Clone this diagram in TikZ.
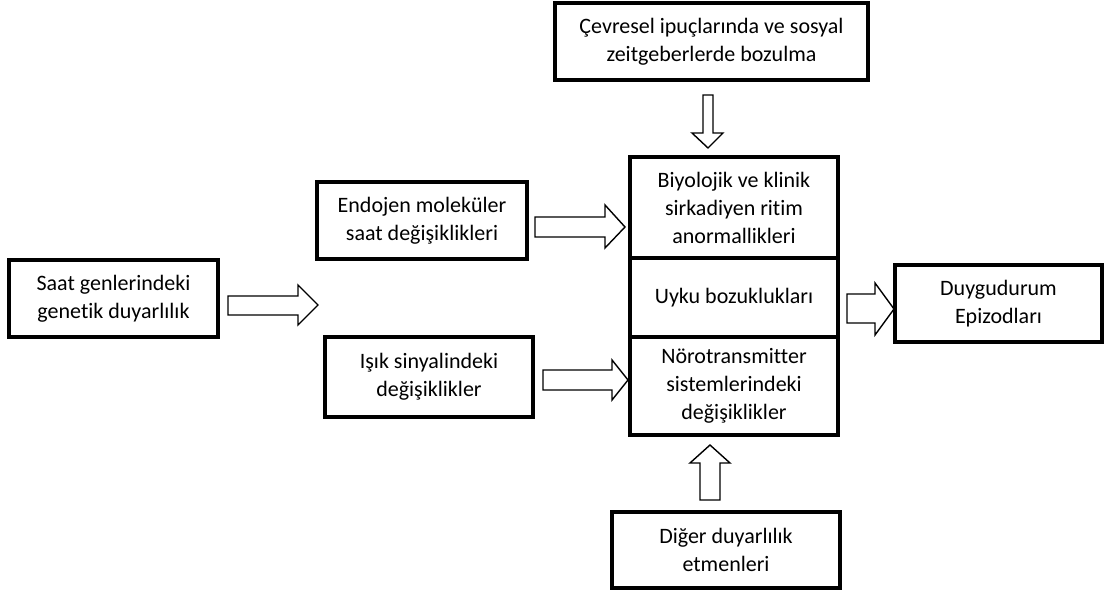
\documentclass[tikz,border=0pt]{standalone}
\usepackage{fontspec}
\setmainfont[Ligatures={NoCommon}]{Carlito}
\begin{document}
\begin{tikzpicture}[x=1pt,y=-1pt,
  box/.style={draw=black,line width=3.6pt,align=center,inner sep=0pt,
    font=\fontsize{22}{28}\selectfont},
  blk/.style={draw=black,line width=1.4pt,fill=white,line join=miter}]
\useasboundingbox (0,0) rectangle (1105,593);
\node[box,minimum width=313pt,minimum height=77pt] (top) at (711.5,41.5) {Çevresel ipuçlarında ve sosyal\\zeitgeberlerde bozulma};
\node[box,minimum width=210pt,minimum height=77pt] (endo) at (422,220.5) {Endojen moleküler\\saat değişiklikleri};
\node[box,minimum width=209pt,minimum height=77pt] (saat) at (113.5,298.5) {Saat genlerindeki\\genetik duyarlılık};
\node[box,minimum width=208pt,minimum height=80pt] (isik) at (429,377) {Işık sinyalindeki\\değişiklikler};
\node[box,minimum width=208pt,minimum height=101pt] (bio) at (734,207.5) {Biyolojik ve klinik\\sirkadiyen ritim\\anormallikleri};
\node[box,minimum width=208pt,minimum height=79pt] (uyku) at (734,297.5) {Uyku bozuklukları};
\node[box,minimum width=208pt,minimum height=98pt] (noro) at (734,386) {Nörotransmitter\\sistemlerindeki\\değişiklikler};
\node[box,minimum width=207pt,minimum height=77pt] (duygu) at (998.5,303.5) {Duygudurum\\Epizodları};
\node[box,minimum width=228pt,minimum height=76pt] (diger) at (726,550) {Diğer duyarlılık\\etmenleri};
% block arrows
\draw[blk] (703,95) -- (713,95) -- (713,133) -- (723,133) -- (708,148) -- (692,133) -- (703,133) -- cycle;
\draw[blk] (700,500) -- (720,500) -- (720,463) -- (730,463) -- (710,445) -- (690,463) -- (700,463) -- cycle;
\draw[blk] (228,296) -- (298,296) -- (298,285) -- (318,305) -- (298,325) -- (298,315) -- (228,315) -- cycle;
\draw[blk] (535,217) -- (605,217) -- (605,205) -- (625,227) -- (605,248) -- (605,237) -- (535,237) -- cycle;
\draw[blk] (543,370) -- (612,370) -- (612,360) -- (628,380) -- (612,400) -- (612,390) -- (543,390) -- cycle;
\draw[blk] (847,294) -- (875,294) -- (875,283) -- (894,309) -- (875,335) -- (875,323) -- (847,323) -- cycle;
\end{tikzpicture}
\end{document}
